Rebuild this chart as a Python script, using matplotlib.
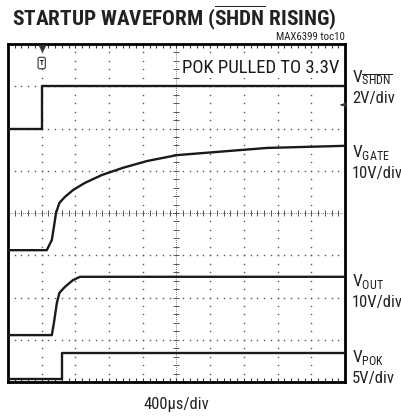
import matplotlib
matplotlib.use("Agg")
import matplotlib.pyplot as plt
import numpy as np
from matplotlib import font_manager

# ── data (time in µs, levels in scope divisions from bottom) ─────────────────
T_END = 4000.0

shdn_t = [0, 400, 400, T_END]
shdn_v = [6.0, 6.0, 7.0, 7.0]

gate_t = [0, 460, 520, 545, 570, 610, 675, 770, 910, 1115, 1365, 1650, 2005, 3075, 4000]
gate_v = [3.12, 3.12, 3.36, 3.67, 4.00, 4.24, 4.38, 4.54, 4.71, 4.90, 5.07, 5.23, 5.37, 5.54, 5.59]

out_t = [0, 520, 545, 580, 610, 675, 770, 855, 4000]
out_v = [1.11, 1.11, 1.40, 1.87, 2.11, 2.25, 2.41, 2.49, 2.49]

pok_t = [0, 645, 645, T_END]
pok_v = [0.08, 0.08, 0.69, 0.69]

ch_labels = [r"V$_{\overline{\rm SHDN}}$", r"V$_{\rm GATE}$", r"V$_{\rm OUT}$", r"V$_{\rm POK}$"]
ch_scales = ["2V/div", "10V/div", "10V/div", "5V/div"]

# ── style ────────────────────────────────────────────────────────────────────
names = {f.name for f in font_manager.fontManager.ttflist}
FONT = "Liberation Sans"
for cand in ["Liberation Sans Narrow", "Arial Narrow", "Roboto Condensed",
             "Archivo Narrow", "Asap Condensed", "DejaVu Sans Condensed"]:
    if cand in names:
        FONT = cand
        break
plt.rcParams["font.family"] = [FONT, "DejaVu Sans"]
plt.rcParams["mathtext.fontset"] = "custom"
plt.rcParams["mathtext.rm"] = FONT
plt.rcParams["mathtext.bf"] = FONT + ":bold"

W, H = 402, 417
fig = plt.figure(figsize=(W / 100, H / 100), dpi=100)
ax = fig.add_axes([8 / W, 35 / H, 337 / W, 338 / H])

DIV_T = 400.0
ax.set_xlim(0, 10 * DIV_T)
ax.set_ylim(0, 8)

# scope graticule
gcol = "#555555"
ys = np.arange(0, 8.001, 0.2)
xs = np.arange(0, 10 * DIV_T + 1, DIV_T / 5)
for k in range(1, 10):
    if k == 5:
        continue
    ax.plot(np.full_like(ys, k * DIV_T), ys, ls="none", marker="s", ms=1.0,
            mfc=gcol, mec="none", zorder=1)
for k in range(1, 8):
    if k == 4:
        continue
    ax.plot(xs, np.full_like(xs, k), ls="none", marker="s", ms=1.0,
            mfc=gcol, mec="none", zorder=1)
# centre lines with cross ticks
ax.axvline(5 * DIV_T, color=gcol, lw=0.6, ls=(0, (1, 1.5)), zorder=1)
ax.axhline(4, color=gcol, lw=0.6, ls=(0, (1, 1.5)), zorder=1)
ax.plot(np.full_like(ys, 5 * DIV_T), ys, ls="none", marker="_", ms=4, mew=0.7,
        color=gcol, zorder=1)
ax.plot(xs, np.full_like(xs, 4), ls="none", marker="|", ms=4, mew=0.7,
        color=gcol, zorder=1)

ax.set_xticks([])
ax.set_yticks([])
ax.set_xticks(xs, minor=True)
ax.tick_params(which="minor", axis="x", direction="in", length=3, width=0.8,
               top=True, bottom=True, labelbottom=False, color="#333333")
for s in ax.spines.values():
    s.set_linewidth(2.0)

# traces
tr = dict(color="#1a1a1a", lw=1.7, solid_joinstyle="round", zorder=3)
ax.plot(shdn_t, shdn_v, **tr)
ax.plot(gate_t, gate_v, **tr)
ax.plot(out_t, out_v, **tr)
ax.plot(pok_t, pok_v, **tr)

# trigger marker and channel arrow
ax.plot([400], [7.9], marker="v", ms=4, color="#333333", clip_on=False, zorder=4)
ax.text(400, 7.55, "T", ha="center", va="center", fontsize=5, fontweight="bold",
        bbox=dict(boxstyle="round,pad=0.25", fc="white", ec="#333333", lw=0.8), zorder=4)
ax.annotate("", xy=(3915, 6.56), xytext=(3990, 6.56),
            arrowprops=dict(arrowstyle="-|>", color="#333333", lw=0.8,
                            mutation_scale=7))

ax.text(0.982, 0.955, "POK PULLED TO 3.3V", transform=ax.transAxes,
        ha="right", va="top", fontsize=13.5, color="#1a1a1a", zorder=5,
        bbox=dict(fc="white", ec="none", pad=0.5))

# titles
fig.text(12 / W, 1 - 18 / H, r"STARTUP WAVEFORM ($\overline{\mathbf{SHDN}}$ RISING)",
         ha="left", va="center", fontsize=15.3, fontweight="bold", color="#222222")
fig.text(345 / W, 1 - 37 / H, "MAX6399 toc10", ha="right", va="center",
         fontsize=7.8, color="#222222")
fig.text(176 / W, 1 - 404 / H, "400µs/div", ha="center", va="center",
         fontsize=12, color="#222222")

# channel labels
lab_y = [82, 157, 286, 362]
for lab, sc, yb in zip(ch_labels, ch_scales, lab_y):
    fig.text(352 / W, 1 - yb / H, lab, ha="left", va="baseline", fontsize=12.5,
             color="#222222")
    fig.text(352 / W, 1 - (yb + 21) / H, sc, ha="left", va="baseline",
             fontsize=12, color="#222222")

fig.savefig("out.png", dpi=100)
